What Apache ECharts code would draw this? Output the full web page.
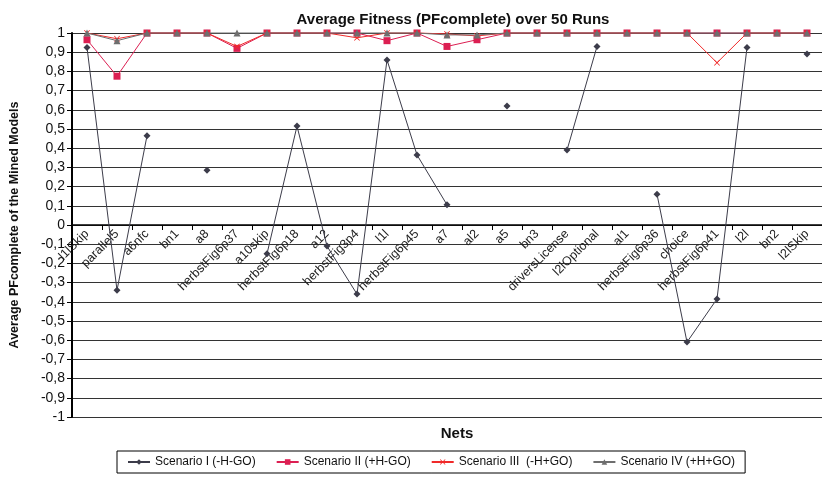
<!DOCTYPE html>
<html>
<head>
<meta charset="utf-8">
<script src="https://cdn.jsdelivr.net/npm/echarts@6/dist/echarts.min.js"></script>
<style>
  html, body { margin: 0; padding: 0; background: #fff; }
  #chart { width: 822px; height: 478px; }
</style>
</head>
<body>
<div id="chart"></div>
<script>
// Nets evaluated
const nets = ['l1lSkip', 'parallel5', 'a6nfc', 'bn1', 'a8', 'herbstFig6p37', 'a10skip',
  'herbstFig6p18', 'a12', 'herbstFig3p4', 'l1l', 'herbstFig6p45', 'a7', 'al2', 'a5', 'bn3',
  'driversLicense', 'l2lOptional', 'al1', 'herbstFig6p36', 'choice', 'herbstFig6p41',
  'l2l', 'bn2', 'l2lSkip'];

// Average PFcomplete per scenario (null = no value for that net)
const scenarioI = [0.925, -0.34, 0.465, null, 0.285, null, -0.15, 0.515, -0.11, -0.36, 0.86,
  0.365, 0.105, null, 0.62, null, 0.39, 0.93, null, 0.16, -0.61, -0.385, 0.925, null, 0.89];
const scenarioII = [0.965, 0.775, 1, 1, 1, 0.92, 1, 1, 1, 1, 0.96, 1, 0.93, 0.965, 1, 1, 1,
  1, 1, 1, 1, 1, 1, 1, 1];
const scenarioIII = [1, 0.97, 1, 1, 1, 0.93, 1, 1, 1, 0.975, 1, 1, 0.995, 0.985, 1, 1, 1,
  1, 1, 1, 1, 0.845, 1, 1, 1];
const scenarioIV = [1, 0.96, 1, 1, 1, 1, 1, 1, 1, 1, 1, 1, 0.99, 0.99, 1, 1, 1,
  1, 1, 1, 1, 1, 1, 1, 1];

const seriesNames = ['Scenario I (-H-GO)', 'Scenario II (+H-GO)', 'Scenario III  (-H+GO)', 'Scenario IV (+H+GO)'];

// Y axis range and step
const yMin = -1, yMax = 1, yStep = 0.1;

const FONT = '"Liberation Sans", Arial, sans-serif';
const crossSymbol = 'path://M0,1L1,0L5,4L9,0L10,1L6,5L10,9L9,10L5,6L1,10L0,9L4,5Z';

const GRID_TOP = 33, GRID_BOTTOM = 61, CHART_H = 478;
const plotHeight = CHART_H - GRID_TOP - GRID_BOTTOM;
// distance from the bottom edge of the plot up to the zero line
const zeroOffset = plotHeight * (0 - yMin) / (yMax - yMin);

function lineSeries(name, data, color, symbol, size, z) {
  return {
    name: name,
    type: 'line',
    data: data,
    symbol: symbol,
    symbolSize: size,
    showSymbol: true,
    connectNulls: false,
    clip: false,
    z: z,
    lineStyle: { color: color, width: 1 },
    itemStyle: { color: color },
    emphasis: { disabled: true },
    animation: false
  };
}

const chart = echarts.init(document.getElementById('chart'), null, { renderer: 'canvas' });
chart.setOption({
  backgroundColor: '#ffffff',
  animation: false,
  textStyle: { fontFamily: FONT },
  title: [
    {
      text: 'Average Fitness (PFcomplete) over 50 Runs',
      left: 448, top: 7, textAlign: 'center',
      textStyle: { fontFamily: FONT, fontSize: 15, fontWeight: 'bold', color: '#111' }
    },
    {
      text: 'Nets',
      left: 452, top: 421, textAlign: 'center',
      textStyle: { fontFamily: FONT, fontSize: 15, fontWeight: 'bold', color: '#111' }
    }
  ],
  legend: {
    left: 117, top: 451,
    data: seriesNames,
    itemWidth: 22, itemHeight: 7, itemGap: 20,
    padding: [5, 10, 5, 10],
    borderColor: '#000', borderWidth: 1,
    textStyle: { fontFamily: FONT, fontSize: 12, color: '#111' }
  },
  grid: { left: 72, top: GRID_TOP, right: -5, bottom: GRID_BOTTOM, containLabel: false },
  xAxis: {
    type: 'category',
    data: nets,
    boundaryGap: true,
    offset: -zeroOffset,
    axisLine: { onZero: false, lineStyle: { color: '#000', width: 1.5 } },
    axisTick: { show: true, length: 5, alignWithLabel: false, lineStyle: { color: '#000' } },
    axisLabel: {
      rotate: 45, interval: 0, fontSize: 12.5, margin: 7,
      fontFamily: FONT, color: '#222'
    },
    splitLine: { show: false }
  },
  yAxis: {
    type: 'value',
    min: yMin, max: yMax, interval: yStep,
    name: 'Average PFcomplete of the Mined Models',
    nameLocation: 'middle', nameGap: 51,
    nameTextStyle: { fontFamily: FONT, fontSize: 12.5, fontWeight: 'bold', color: '#111' },
    axisLine: { show: true, lineStyle: { color: '#000', width: 2 } },
    axisTick: { show: true, length: 5, lineStyle: { color: '#000' } },
    axisLabel: {
      fontSize: 14, margin: 7, fontFamily: FONT, color: '#111',
      formatter: function (v) {
        const r = Math.round(v * 10) / 10;
        return String(r).replace('.', ',');
      }
    },
    splitLine: { show: true, lineStyle: { color: '#333', width: 1 } }
  },
  series: [
    lineSeries(seriesNames[0], scenarioI, '#3c3c4a', 'diamond', 7, 2),
    lineSeries(seriesNames[1], scenarioII, '#dc1f52', 'rect', 7, 3),
    lineSeries(seriesNames[2], scenarioIII, '#f02a2a', crossSymbol, 6, 4),
    lineSeries(seriesNames[3], scenarioIV, '#6e6e6e', 'triangle', 7, 5)
  ]
});
</script>
</body>
</html>
